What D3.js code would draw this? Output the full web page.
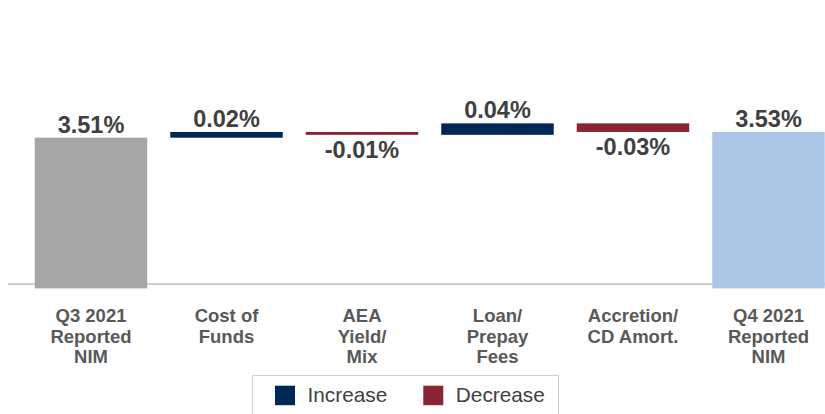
<!DOCTYPE html>
<html>
<head>
<meta charset="utf-8">
<script src="https://cdn.jsdelivr.net/npm/d3@7/dist/d3.min.js"></script>
<style>
  html, body { margin: 0; padding: 0; background: #ffffff; }
  svg { display: block; }
  text { font-family: "Liberation Sans", Arial, sans-serif; }
</style>
</head>
<body>
<svg id="chart" width="825" height="414"></svg>
<script>
// Net interest margin bridge, Q3 2021 -> Q4 2021 (percent)
const categories = [
  ["Q3 2021", "Reported", "NIM"],
  ["Cost of", "Funds"],
  ["AEA", "Yield/", "Mix"],
  ["Loan/", "Prepay", "Fees"],
  ["Accretion/", "CD Amort."],
  ["Q4 2021", "Reported", "NIM"]
];
const values = [3.51, 0.02, -0.01, 0.04, -0.03, 3.53];
const kinds = ["start", "delta", "delta", "delta", "delta", "end"];
const valueLabels = ["3.51%", "0.02%", "-0.01%", "0.04%", "-0.03%", "3.53%"];
const legendItems = ["Increase", "Decrease"];

const colors = {
  start: "#a6a6a6",
  end: "#adc6e5",
  Increase: "#002856",
  Decrease: "#8b2332"
};

const axisFloor = 2.985;   // bars are drawn down to this value
const baselineValue = 3.0; // horizontal rule

// running totals for the waterfall
let running = 0;
const bars = values.map((v, i) => {
  let lo, hi;
  if (kinds[i] === "delta") {
    const before = running;
    running += v;
    lo = Math.min(before, running);
    hi = Math.max(before, running);
  } else {
    running = v;
    lo = axisFloor;
    hi = v;
  }
  return { i, v, lo, hi, kind: kinds[i], label: valueLabels[i], cat: categories[i] };
});

const svg = d3.select("#chart");

const x = d3.scaleBand()
  .domain(d3.range(categories.length))
  .range([23.25, 836.25])
  .paddingInner(0.17)
  .paddingOuter(0.085);

const y = d3.scaleLinear()
  .domain([axisFloor, 3.56])
  .range([288.4, 123.35]);

// baseline rule
svg.append("line")
  .attr("x1", 8).attr("x2", 825)
  .attr("y1", y(baselineValue)).attr("y2", y(baselineValue))
  .attr("stroke", "#c9c9c9")
  .attr("stroke-width", 1.6);

function fillFor(d) {
  if (d.kind === "start") return colors.start;
  if (d.kind === "end") return colors.end;
  return d.v >= 0 ? colors.Increase : colors.Decrease;
}

svg.append("g").selectAll("rect")
  .data(bars)
  .join("rect")
  .attr("x", d => x(d.i))
  .attr("width", x.bandwidth())
  .attr("y", d => y(d.hi))
  .attr("height", d => y(d.lo) - y(d.hi))
  .attr("fill", fillFor);

// value labels: above for totals and increases, below for decreases
svg.append("g").selectAll("text")
  .data(bars)
  .join("text")
  .attr("x", d => x(d.i) + x.bandwidth() / 2)
  .attr("y", d => (d.kind === "delta" && d.v < 0) ? y(d.lo) + 23 : y(d.hi) - 5)
  .attr("text-anchor", "middle")
  .attr("font-size", 23.5)
  .attr("font-weight", "bold")
  .attr("fill", "#404040")
  .text(d => d.label);

// category labels
const catG = svg.append("g").selectAll("text")
  .data(bars)
  .join("text")
  .attr("text-anchor", "middle")
  .attr("font-size", 18.5)
  .attr("font-weight", "bold")
  .attr("fill", "#595959");

catG.selectAll("tspan")
  .data(d => d.cat.map((line, k) => ({ line, k, cx: x(d.i) + x.bandwidth() / 2 })))
  .join("tspan")
  .attr("x", t => t.cx)
  .attr("y", t => 321.7 + t.k * 20.8)
  .text(t => t.line);

// legend
const legend = svg.append("g");
legend.append("rect")
  .attr("x", 252.5).attr("y", 375.5)
  .attr("width", 306).attr("height", 60)
  .attr("fill", "#ffffff")
  .attr("stroke", "#d0d0d0")
  .attr("stroke-width", 1);

const legendX = [275, 423.3];
const legendItemsG = legend.selectAll("g.item")
  .data(legendItems)
  .join("g")
  .attr("class", "item")
  .attr("transform", (d, i) => `translate(${legendX[i]},0)`);

legendItemsG.append("rect")
  .attr("x", 0).attr("y", 385.7)
  .attr("width", 20).attr("height", 19.5)
  .attr("fill", d => colors[d]);

legendItemsG.append("text")
  .attr("x", 32.5).attr("y", 402.3)
  .attr("font-size", 20.8)
  .attr("fill", "#404040")
  .text(d => d);
</script>
</body>
</html>
